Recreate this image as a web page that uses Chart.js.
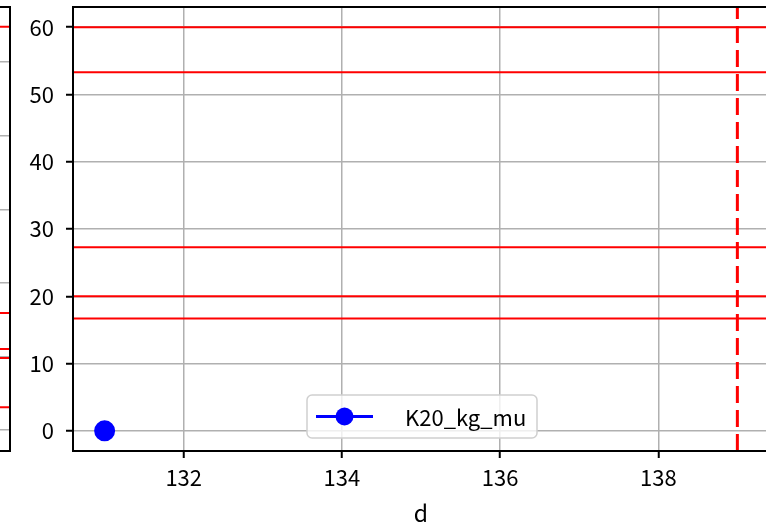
<!DOCTYPE html>
<html>
<head>
<meta charset="utf-8">
<script src="https://cdn.jsdelivr.net/npm/chart.js@4"></script>
<style>
  html, body { margin: 0; padding: 0; background: #fff; overflow: hidden; width: 766px; height: 525px; }
  #leftChart { position: absolute; left: -301px; top: 0; }
  #mainChart { position: absolute; left: 0; top: 0; }
</style>
</head>
<body>
<canvas id="leftChart" width="312" height="525"></canvas>
<canvas id="mainChart" width="790" height="525"></canvas>
<script>
  // data
  const seriesLabel = 'K20_kg_mu';
  const pointX = [131];
  const pointY = [0];
  const hLines = [60, 53.3, 27.3, 20, 16.7];   // red horizontal lines
  const vLines = [139];                         // red dashed vertical line
  const xTicks = [132, 134, 136, 138];
  const yTicks = [0, 10, 20, 30, 40, 50, 60];

  // neighbouring subplot (only its right edge is visible)
  const leftHLines = [54.8, 15.9, 11.0, 9.8, 3.1];
  const leftYTicks = [0, 10, 20, 30, 40, 50];

  const FONT = '"Noto Sans CJK JP", "Noto Sans", sans-serif';
  const GRID = '#b0b0b0';

  // red lines + frame
  const refLines = {
    id: 'refLines',
    beforeDatasetsDraw(chart, args, opts) {
      const { ctx, chartArea: a, scales } = chart;
      ctx.save();
      ctx.beginPath();
      ctx.rect(a.left, a.top, a.right - a.left, a.bottom - a.top);
      ctx.clip();
      ctx.strokeStyle = '#ff0000';
      ctx.lineWidth = 2;
      (opts.h || []).forEach(v => {
        const y = scales.y.getPixelForValue(v);
        ctx.beginPath();
        ctx.moveTo(a.left, y);
        ctx.lineTo(a.right, y);
        ctx.stroke();
      });
      ctx.lineWidth = 3;
      ctx.setLineDash([17, 7]);
      (opts.v || []).forEach(v => {
        const x = scales.x.getPixelForValue(v);
        ctx.beginPath();
        ctx.moveTo(x, a.bottom);
        ctx.lineTo(x, a.top);
        ctx.stroke();
      });
      ctx.restore();
    },
    afterDraw(chart) {
      const { ctx, chartArea: a } = chart;
      ctx.save();
      ctx.strokeStyle = '#000';
      ctx.lineWidth = 2;
      ctx.strokeRect(a.left, a.top, a.right - a.left, a.bottom - a.top);
      ctx.restore();
    }
  };

  // matplotlib-like legend box at lower centre
  const boxLegend = {
    id: 'boxLegend',
    afterDraw(chart) {
      const ctx = chart.ctx;
      const ds = chart.data.datasets[0];
      const x0 = 307, y0 = 395, w = 230, h = 43, r = 5;
      ctx.save();
      ctx.fillStyle = 'rgba(255,255,255,0.8)';
      ctx.strokeStyle = '#d0d0d0';
      ctx.lineWidth = 1.5;
      ctx.beginPath();
      ctx.roundRect(x0, y0, w, h, r);
      ctx.fill();
      ctx.stroke();
      const cy = y0 + h / 2;
      ctx.strokeStyle = ds.borderColor;
      ctx.lineWidth = 3;
      ctx.beginPath();
      ctx.moveTo(316, cy);
      ctx.lineTo(373, cy);
      ctx.stroke();
      ctx.fillStyle = ds.backgroundColor;
      ctx.beginPath();
      ctx.arc(344.5, cy, 9, 0, Math.PI * 2);
      ctx.fill();
      ctx.fillStyle = '#000';
      ctx.font = '22px ' + FONT;
      ctx.textBaseline = 'middle';
      ctx.fillText(ds.label, 405, cy + 1);
      ctx.restore();
    }
  };

  // fixed axis box sizes, no extra label padding
  const fixBox = (w, h) => s => {
    if (w !== null) s.width = w;
    if (h !== null) s.height = h;
    s.paddingTop = 0; s.paddingBottom = 0; s.paddingLeft = 0; s.paddingRight = 0;
  };

  // ----- main chart -----
  new Chart(document.getElementById('mainChart').getContext('2d'), {
    type: 'scatter',
    data: {
      datasets: [{
        label: seriesLabel,
        data: pointX.map((x, i) => ({ x: x, y: pointY[i] })),
        borderColor: '#0000ff',
        backgroundColor: '#0000ff',
        pointRadius: 9,
        pointHoverRadius: 9,
        showLine: true,
        borderWidth: 3
      }]
    },
    options: {
      responsive: false,
      animation: false,
      layout: { autoPadding: false, padding: { left: 0, top: 7, right: 21, bottom: 0 } },
      plugins: {
        legend: { display: false },
        tooltip: { enabled: false },
        refLines: { h: hLines, v: vLines }
      },
      scales: {
        x: {
          type: 'linear',
          min: 130.6,
          max: 139.4,
          afterBuildTicks: s => { s.ticks = xTicks.map(v => ({ value: v })); },
          afterFit: fixBox(null, 74),
          border: { display: false },
          grid: { color: GRID, lineWidth: 1.5, tickColor: '#000', tickLength: 7, tickWidth: 2 },
          ticks: { color: '#000', font: { family: FONT, size: 22 }, padding: 6, maxRotation: 0 },
          title: { display: true, text: 'd', color: '#000', font: { family: FONT, size: 23 }, padding: { top: 0, bottom: -2 } }
        },
        y: {
          min: -3,
          max: 63,
          afterBuildTicks: s => { s.ticks = yTicks.map(v => ({ value: v })); },
          afterFit: fixBox(73, null),
          border: { display: false },
          grid: { color: GRID, lineWidth: 1.5, tickColor: '#000', tickLength: 7, tickWidth: 2 },
          ticks: { color: '#000', font: { family: FONT, size: 22 }, padding: 12 }
        }
      }
    },
    plugins: [refLines, boxLegend]
  });

  // ----- neighbouring subplot, cut by the window edge -----
  new Chart(document.getElementById('leftChart').getContext('2d'), {
    type: 'scatter',
    data: { datasets: [{ data: [] }] },
    options: {
      responsive: false,
      animation: false,
      layout: { autoPadding: false, padding: { left: 0, top: 7, right: 1, bottom: 74 } },
      plugins: {
        legend: { display: false },
        tooltip: { enabled: false },
        refLines: { h: leftHLines, v: [] }
      },
      scales: {
        x: { type: 'linear', min: 0, max: 1, display: false },
        y: {
          min: -2.85,
          max: 57.5,
          afterBuildTicks: s => { s.ticks = leftYTicks.map(v => ({ value: v })); },
          afterFit: fixBox(60, null),
          border: { display: false },
          grid: { color: GRID, lineWidth: 1.5, drawTicks: false },
          ticks: { display: false }
        }
      }
    },
    plugins: [refLines]
  });
</script>
</body>
</html>
